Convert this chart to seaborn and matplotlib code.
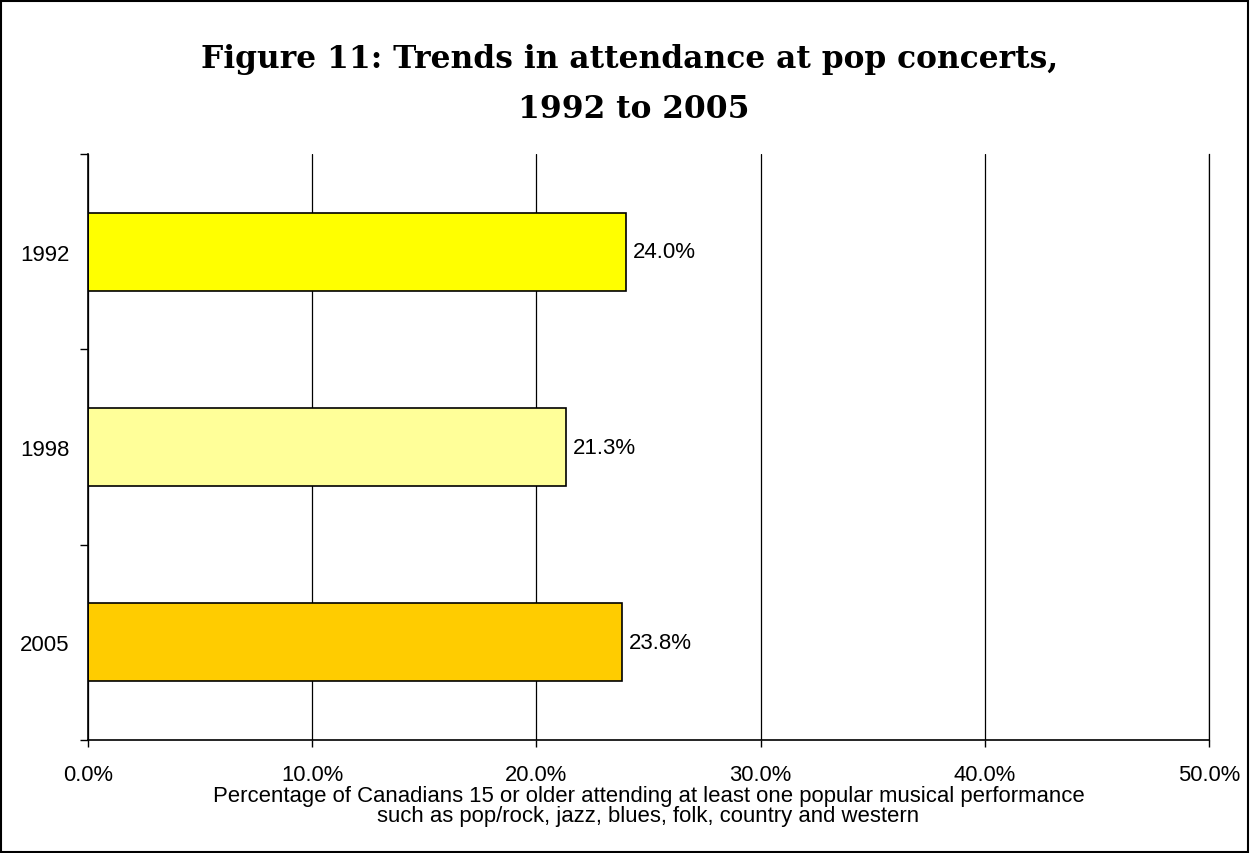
import matplotlib
matplotlib.use("Agg")
import matplotlib.pyplot as plt
import seaborn as sns
import pandas as pd

years = ["1992", "1998", "2005"]
attendance = [24.0, 21.3, 23.8]
bar_colors = ["#FFFF00", "#FFFF99", "#FFCC00"]
x_ticks = [0, 10, 20, 30, 40, 50]

df = pd.DataFrame({"Year": years, "Pct": attendance})

sns.set_style("white")
plt.rcParams['font.family'] = ['Liberation Sans', 'DejaVu Sans']
plt.rcParams['text.color'] = 'black'
plt.rcParams['axes.labelcolor'] = 'black'
plt.rcParams['xtick.color'] = 'black'
plt.rcParams['ytick.color'] = 'black'

fig = plt.figure(figsize=(12.5, 8.54), dpi=100)
ax = fig.add_axes([0.0704, 0.1323, 0.8968, 0.6862])

sns.barplot(data=df, y="Year", x="Pct", hue="Year", palette=bar_colors,
            order=years, hue_order=years, legend=False, width=0.4,
            saturation=1, edgecolor="black", linewidth=1.2, ax=ax, orient="h")

# value labels
for cont in ax.containers:
    ax.bar_label(cont, fmt="%.1f%%", padding=5, fontsize=16)

ax.set_xlim(0, 50)
ax.set_ylim(2.5, -0.5)
ax.set_xticks(x_ticks)
ax.set_xticklabels([f"{v:.1f}%" for v in x_ticks], fontsize=15.8)
ax.xaxis.grid(True, color="black", linewidth=0.9)
ax.set_axisbelow(True)

# category boundary ticks on the y axis
ax.set_yticks([-0.5, 0.5, 1.5, 2.5], minor=True)
ax.set_yticks([0, 1, 2])
ax.set_yticklabels(years, fontsize=16)
ax.tick_params(axis="y", which="major", length=0, pad=13.5)
ax.tick_params(axis="y", which="minor", length=6, width=1, direction="out", left=True)
ax.tick_params(axis="x", which="major", length=5, width=1, direction="out", bottom=True, pad=12)

ax.spines["top"].set_visible(False)
ax.spines["right"].set_color("black")
ax.spines["right"].set_linewidth(0.9)
for side in ["left", "bottom"]:
    ax.spines[side].set_color("black")
    ax.spines[side].set_linewidth(1.2)

ax.set_ylabel("")
ax.set_xlabel("Percentage of Canadians 15 or older attending at least one popular musical performance\n"
              "such as pop/rock, jazz, blues, folk, country and western",
              fontsize=15.9, labelpad=0, linespacing=0.95)

serif = ["DejaVu Serif", "Liberation Serif"]
fig.text(0.504, 1 - 68 / 854, "Figure 11: Trends in attendance at pop concerts,",
         ha="center", va="baseline", fontsize=22.5, fontweight="bold", family=serif)
fig.text(0.507, 1 - 118 / 854, "1992 to 2005",
         ha="center", va="baseline", fontsize=22.5, fontweight="bold", family=serif)

# outer border
fig.patches.append(plt.Rectangle((0.001, 0.001), 0.997, 0.997, transform=fig.transFigure,
                                 fill=False, edgecolor="black", linewidth=1.5))

fig.savefig("out.png", dpi=100)
